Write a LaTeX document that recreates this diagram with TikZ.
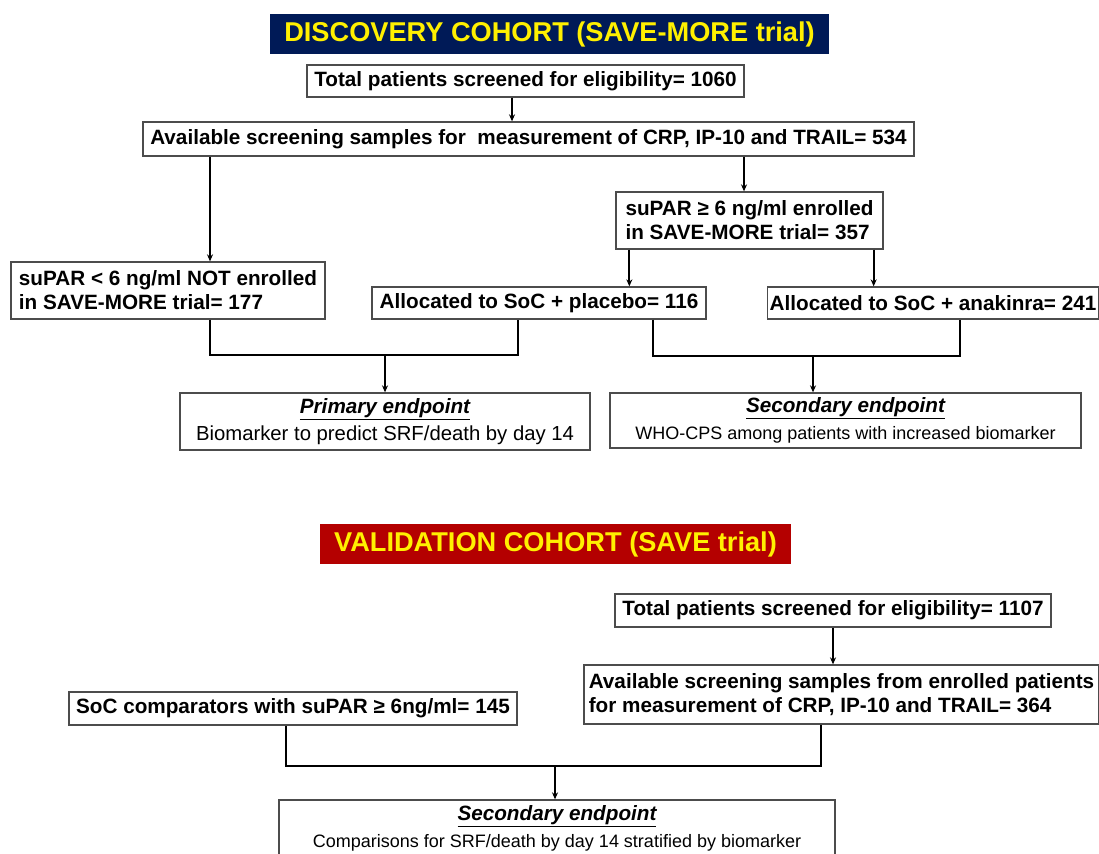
\documentclass[tikz,border=0pt]{standalone}
\usepackage{fontspec}
\setmainfont{Liberation Sans}
\usetikzlibrary{positioning,arrows.meta}
\definecolor{navy}{RGB}{0,26,87}
\definecolor{darkred}{RGB}{180,0,0}
\definecolor{ttlyellow}{RGB}{255,240,0}

\begin{document}
\begin{tikzpicture}[x=1pt, y=-1pt, b/.style={draw=black!70, line width=1.3pt, fill=white, inner sep=0pt, font=\fontsize{20.7}{24}\selectfont\bfseries}, l/.style={b, align=left}, e/.style={b, align=center}, t/.style={inner sep=0pt, text=ttlyellow, minimum height=40pt, font=\fontsize{27.2}{30}\selectfont\bfseries}, s/.style={line width=1.8pt}, a/.style={s, -{Stealth[length=7pt,width=6pt]}}]
		\useasboundingbox (0,0) rectangle (1099,853);

		% discovery cohort
		\node[t, fill=navy, minimum width=559pt] (T1) at (549.5,34) {DISCOVERY COHORT (SAVE-MORE trial)};
		\node[b, minimum width=437pt, minimum height=32pt] (A) at (525.5,81) {Total patients screened for eligibility= 1060};
		\node[b, minimum width=771pt, minimum height=34pt] (B) at (528.5,139) {Available screening samples for~ measurement of CRP, IP-10 and TRAIL= 534};
		\node[l, minimum width=314pt, minimum height=57pt] (C) at (168,290.5) {suPAR < 6 ng/ml NOT enrolled\\in SAVE-MORE trial= 177};
		\node[l, minimum width=267pt, minimum height=57pt] (D) at (749.5,220.5) {suPAR ≥ 6 ng/ml enrolled\\in SAVE-MORE trial= 357};
		\node[b, minimum width=334pt, minimum height=32pt] (E) at (539,303) {Allocated to SoC + placebo= 116};
		\node[b, minimum width=331pt, minimum height=32pt] (F) at (933,303) {Allocated to SoC + anakinra= 241};
		\node[e, minimum width=410pt, minimum height=57pt] (G) at (385,421.5) {\itshape\underline{Primary endpoint}\\[3pt]{\fontsize{20.3}{22}\selectfont\mdseries\upshape Biomarker to predict SRF/death by day 14}};
		\node[e, minimum width=471pt, minimum height=55pt] (H) at (845.5,420.5) {\itshape\underline{Secondary endpoint}\\[3pt]{\fontsize{18}{22}\selectfont\mdseries\upshape WHO-CPS among patients with increased biomarker}};

		\draw[a] ([xshift=-13.5pt]A.south) -- ([xshift=-13.5pt]A.south |- B.north);
		\draw[a] ([xshift=42pt]C.north |- B.south) -- ([xshift=42pt]C.north);
		\draw[a] ([xshift=-5.5pt]D.north |- B.south) -- ([xshift=-5.5pt]D.north);
		\draw[a] ([xshift=14pt]D.south west) -- ([xshift=14pt]D.south west |- E.north);
		\draw[a] ([xshift=-10pt]D.south east) -- ([xshift=-10pt]D.south east |- F.north);

		\coordinate (j1) at ([yshift=37pt]G.north);
		\draw[s] ([xshift=42pt]C.south) |- (j1) -| ([xshift=-21pt]E.south);
		\draw[a] (j1) -- (G.north);
		\coordinate (j2) at ([xshift=-32.5pt, yshift=36pt]H.north);
		\draw[s] ([xshift=-54pt]E.south east) |- (j2) -| ([xshift=27pt]F.south);
		\draw[a] (j2) -- (j2 |- H.north);

		% validation cohort
		\node[t, fill=darkred, minimum width=471pt] (T2) at (555.5,544) {VALIDATION COHORT (SAVE trial)};
		\node[b, minimum width=436pt, minimum height=33pt] (I) at (833,610.5) {Total patients screened for eligibility= 1107};
		\node[l, minimum width=515pt, minimum height=59pt] (J) at (841.5,694.5) {Available screening samples from enrolled patients\\for measurement of CRP, IP-10 and TRAIL= 364};
		\node[b, minimum width=448pt, minimum height=33pt] (K) at (293,708.5) {SoC comparators with suPAR ≥ 6ng/ml= 145};
		\node[e, minimum width=556pt, minimum height=57pt] (L) at (557,828.5) {\itshape\underline{Secondary endpoint}\\[3pt]{\fontsize{18}{22}\selectfont\mdseries\upshape Comparisons for SRF/death by day 14 stratified by biomarker}};

		\draw[a] (I) -- (I |- J.north);
		\coordinate (j3) at ([xshift=-2pt, yshift=33pt]L.north);
		\draw[s] ([xshift=-7pt]K.south) |- (j3) -| ([xshift=-20.5pt]J.south);
		\draw[a] (j3) -- (j3 |- L.north);
	\end{tikzpicture}
\end{document}
